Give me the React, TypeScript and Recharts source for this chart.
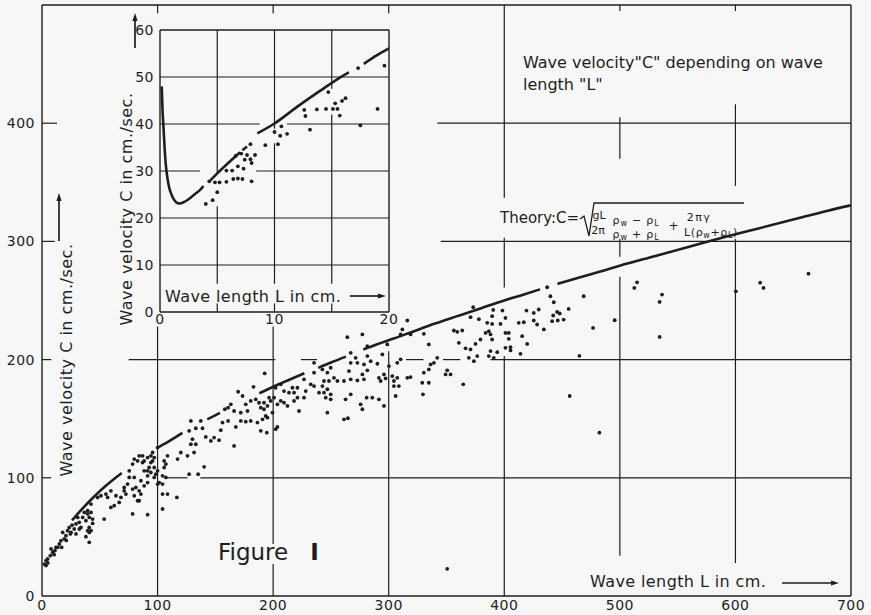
import React from 'react';
import { ComposedChart, Scatter, Line, XAxis, YAxis, ReferenceLine } from 'recharts';

// ---- tick labels ----
const mainXTicks = [0, 100, 200, 300, 400, 500, 600, 700];
const mainYTicks = [0, 100, 200, 300, 400];
const insetXTicks = [0, 10, 20];
const insetYTicks = [0, 10, 20, 30, 40, 50, 60];

// ---- theory curve (null = where the drawn line is broken) ----
const theoryMain: [number, number | null][] = [
  [26, 64], [35, 74], [45, 84], [55, 93], [69, 104], [85, null],
  [101, 126], [110, 131], [121.5, 138], [132, null],
  [143, 149.5], [154, 155], [170, null],
  [188, 171.5], [200, 177], [214, 183], [227, 188.5], [233, null],
  [239, 193], [250, 197.5], [263, 202.5], [270, null],
  [278, 208.5], [290, 213], [305, 218], [319, 223], [340, 230.5], [360, 237], [380, 243.5],
  [400, 250], [415, 254.5], [431, 259.5], [438, null],
  [446, 264], [465, 269.5], [483, 274.5], [500, 279.5], [530, 287.5], [560, 295.5],
  [590, 303.5], [620, 311], [650, 318.5], [680, 326], [700, 330.5],
];

const theoryInset: [number, number | null][] = [
  [0.15, 48], [0.22, 43], [0.3, 39.5], [0.4, 35], [0.5, 31.5], [0.65, 28.5], [0.8, 26.5],
  [1, 25], [1.25, 23.8], [1.5, 23.2], [1.75, 23.1], [2, 23.3], [2.5, 24], [3, 25],
  [3.5, 26], [3.8, 26.8], [4.05, null],
  [4.4, 28], [5, 29.5], [6, 31.8], [7, 34], [7.1, null],
  [7.2, 34.4], [7.6, 35.2], [8, null],
  [8.5, 38], [10, 40.1], [12, 43.7], [14, 47.1], [16, 50.3], [16.5, 51], [17.1, null],
  [17.8, 52.8], [19, 54.7], [20, 56.1],
];

// ---- measured points [L, C] ----
const shortWaves: [number, number][] = [
  [2, 27], [3.5, 25.7], [3.5, 30], [4.9, 31.4], [5, 28], [7.2, 34.2], [7.8, 39.8], [9.2, 37],
  [10.5, 35], [11.2, 38.4], [12.1, 41.2], [13.6, 41.2], [15, 44], [16.4, 46.8], [17, 41.2],
  [17.9, 53.8], [19.3, 48.3], [20.7, 51], [21, 47], [22.2, 55.3], [23.6, 58], [24.5, 52.5],
  [25.1, 53.8], [26, 60], [27.9, 56.7], [29.4, 61], [29.4, 52.5], [30.9, 66.5], [32.2, 62.3],
  [32.3, 56.7], [33.7, 58], [35.2, 66.5], [36.6, 70.7], [38, 63.7], [38, 50.2], [39.5, 72.2],
  [39.5, 69.4], [39.5, 55.3], [40.9, 66.5], [40.9, 58], [40.9, 53.8], [40.9, 45.4], [42.4, 70.7],
  [42.4, 55.3], [42.4, 77.8], [43.8, 61.4], [43.8, 65.1],
];

const mediumWaves: [number, number][] = [
  [48.1, 83.4], [51, 84.8], [53.8, 65.1], [55.3, 86.2], [56.8, 83.4], [59.6, 89], [59.6, 74.9],
  [62.5, 76.4], [64, 84.8], [66.8, 79.2], [68.3, 83.4], [71.1, 89], [71.1, 91.8], [72.6, 86.2],
  [74, 94.7], [75.5, 100.3], [75.5, 105.9], [78.4, 90.5], [78.4, 111.6], [78.4, 69.4], [79.8, 84.8],
  [79.8, 100.3], [79.8, 115.8], [81.2, 91.8], [82.7, 80.6], [82.7, 114.3], [84.1, 89], [84.1, 80.6],
  [84.1, 118.6], [85.6, 97.5], [85.6, 86.2], [87, 118.6], [87, 112.9], [88.4, 114.3], [88.4, 105.9],
  [88.4, 93.2], [91.4, 105.9], [91.4, 96], [91.4, 101.7], [91.4, 117.1], [91.4, 68.8], [92.7, 108.7],
  [94.2, 118.6], [94.2, 112.9], [94.2, 104.5], [95.7, 121.4], [95.7, 114.3], [97.1, 117.1],
  [97.1, 108.7], [97.1, 100.3], [98.5, 103.1], [100, 125.6], [100, 105.9], [100, 94.7], [101.4, 96],
  [104.3, 101.7], [104.3, 94.7], [104.3, 86.2], [104.3, 73.6], [105.7, 108.7], [105.7, 114.3],
  [107.2, 100.3], [107.2, 111.6], [108.6, 118.6], [108.6, 86.2], [116.7, 83.4], [117.3, 115.8],
  [120.1, 121.4], [125.9, 118.6], [127.3, 103.1],
];

const longerWaves: [number, number][] = [
  [131.6, 121.4], [128.8, 128.4], [133.1, 128.4], [130.2, 132.7], [127.3, 139.7], [128.8, 148.1],
  [133.1, 141.9], [137.4, 148.1], [138.9, 141.9], [141.7, 134.6], [146.1, 131.2], [148.9, 134],
  [153.2, 131.8], [154.7, 140.3], [156.2, 146.7], [161, 148.1], [167.7, 143], [172, 148.1],
  [176.3, 147.5], [180.6, 148.1], [186.4, 146.7], [189.3, 139.7], [194.5, 138.2], [202.2, 141.1],
  [203.7, 143], [166.2, 127], [140.3, 109.3], [135.1, 103.1], [158.2, 158], [161, 159.3],
  [163.4, 162.2], [166.2, 156.5], [169.7, 172.8], [173.5, 169.2], [172, 155.1], [176.3, 162.2],
  [177.8, 156.5], [180.6, 165], [183, 177], [185, 166.4], [187.8, 163.5], [189.3, 159.3],
  [192.1, 158], [192.1, 163.5], [192.7, 188.3], [195.1, 160.8], [196.5, 167.8], [197.9, 165],
  [200.8, 167.8], [193.6, 152.3], [190.8, 149.5], [195.1, 150.9], [199.4, 155.1], [203.7, 162.2],
  [206.6, 165], [209.4, 163.5], [212.4, 160.8], [213.7, 172], [206.6, 179.1], [202.2, 176.2],
  [209.4, 173.4],
];

const longWaves: [number, number][] = [
  [264.2, 219], [277.2, 221.3], [316.1, 233.1], [310.3, 221.3], [298.8, 212.8], [281.5, 211.4],
  [235.4, 197.3], [267.1, 205.7], [271.4, 201.5], [267.1, 197.3], [272.9, 197.3], [281.5, 203],
  [284.4, 198.7], [278.6, 195.9], [281.5, 190.9], [277.2, 187.5], [278.6, 183.3], [290.2, 196.5],
  [294.5, 204.4], [307.4, 197.3], [310.3, 200.2], [300.2, 194.5], [295.9, 187.5], [291.5, 184.6],
  [293, 181.9], [297.3, 184.1], [303.1, 186.1], [304.5, 181.9], [307.4, 184.6], [308.8, 177.6],
  [316.1, 184.6], [304.5, 177.6], [306, 169.2], [295.9, 160.8], [249.8, 193.1], [246.9, 188.9],
  [242.6, 191.7], [235.4, 188.9], [252.6, 184.6], [255.6, 181.9], [261.3, 181.9], [267.1, 183.3],
  [272.9, 182.4], [265.6, 190.3], [244, 181.9], [248.3, 181.9], [242.6, 177.6], [235.4, 177.6],
  [246.9, 174.9], [239.7, 172], [244, 172], [249.8, 170.6], [245.5, 167.8], [249.8, 166.4],
  [262.7, 166.4], [267.1, 170.6], [275.7, 162.2], [277.2, 158], [280.9, 167.8], [285.8, 167.8],
  [291.5, 166.4], [246.9, 155.1], [261.3, 149.5], [264.7, 150.4], [232.5, 179.1], [226.7, 183.3],
  [221, 176.2], [216.7, 176.2], [218.1, 172], [218.1, 165], [221, 167.8], [226.7, 167.8],
  [228.2, 173.4], [222.4, 156.5], [311.8, 225.5], [318.9, 221.3], [318.9, 185.2],
];

const longestWaves: [number, number][] = [
  [330.4, 221.8], [334.7, 212.8], [373.1, 244.3], [370.8, 235.9], [378, 234.2], [390.4, 242],
  [398.4, 241.5], [389.5, 236.7], [401, 235.3], [385.2, 231.1], [389.5, 230.2], [396.7, 230.2],
  [356.4, 224.6], [359.3, 223.5], [363.6, 224.6], [360.7, 214.2], [366.5, 209.5], [370.8, 208.6],
  [375.1, 213.3], [379.4, 217], [383.8, 222.6], [386.6, 224], [388.1, 221.3], [389.5, 217],
  [401, 222.6], [403.9, 222.6], [403.9, 217.6], [415.5, 219.8], [419.8, 213.3], [412.5, 231.1],
  [416.9, 231.6], [419.2, 241.5], [425.5, 239.5], [429.8, 242.4], [425.5, 233.1], [428.4, 229.7],
  [401, 210], [405.4, 210.5], [405.4, 207.8], [414, 204.9], [388.1, 207.2], [393.9, 206.3],
  [386.6, 203], [390.9, 201.5], [376.6, 203], [373.7, 198.7], [369.3, 201.5], [342, 201.5],
  [339.1, 197.3], [336.2, 195.9], [334.7, 191.7], [330.4, 188.9], [329, 180.4], [334.7, 180.4],
  [350.6, 190.9], [349.2, 187.5], [353.5, 187.5], [364.5, 179.1], [329.6, 170.6], [350.6, 23],
  [437.1, 261.2], [439.9, 253.6], [442.8, 248.5], [468.7, 253.6], [455.7, 242.9], [442.3, 237.3],
  [445.7, 240.3], [448, 239], [441.4, 232.5], [446.3, 233.1], [451.4, 233.9], [434.2, 225.5],
  [476.8, 226.8], [495.5, 233.3], [465, 203.2], [456.6, 169.2], [482.3, 138.2], [514.9, 265.4],
  [512.5, 260.6], [536.5, 255], [534.4, 248.8], [534.4, 219.2], [600.4, 257.8], [621.4, 265.1],
  [624.3, 260.6], [663.2, 272.7],
];

const insetPoints: [number, number][] = [
  [4, 23], [4.6, 23.8], [5, 25.5], [4.3, 27.8], [4.8, 27.6], [5.2, 27.6], [5.8, 27.7], [6.4, 28.3],
  [6.8, 28.4], [7.2, 28.3], [8, 27.8], [5.8, 30.1], [6.3, 30.1], [6.8, 31], [7.3, 30.5], [6.6, 33.2],
  [7.1, 33.7], [7.6, 33.4], [7.4, 32.4], [7.9, 32.5], [8, 31.7], [8.3, 33.4], [7.9, 35.7],
  [9.2, 35.5], [10, 38.3], [10.6, 39.5], [10.5, 37.5], [10.3, 35.7], [11.1, 37.9], [12.6, 43],
  [12.7, 41.7], [13.1, 38.8], [13.7, 43.1], [14.5, 43.2], [14.7, 46.8], [15.1, 43.2], [15.3, 44.4],
  [15.5, 43.2], [15.7, 41.8], [15.9, 44.9], [16.2, 45.5], [17.3, 51.9], [17.5, 39.7], [19, 43.2],
  [19.6, 52.4],
];

// ---- grid segments as drawn (hand-inked lines broken around labels) ----
const mainHGrid: [number, number, number][] = [
  [100, 0, 8], [100, 108, 126], [100, 137, 700],
  [200, 0, 8], [200, 75, 202], [200, 224, 238], [200, 315, 330], [200, 347, 362], [200, 388, 700],
  [300, 0, 11], [300, 345, 700],
  [400, 0, 13], [400, 342, 700],
];
const mainVGrid: [number, number, number][] = [
  [100, 500, 493], [100, 228, 0],
  [200, 500, 493], [200, 228, 44], [200, 27, 0],
  [300, 500, 493], [300, 207, 0],
  [400, 500, 337], [400, 303, 261], [400, 203, 0],
  [500, 500, 495], [500, 405, 370], [500, 302, 287], [500, 270, 34],
  [600, 500, 495], [600, 416, 347], [600, 302, 28],
];
const insetHGrid: [number, number, number][] = [
  [10, 0, 20], [20, 0, 20], [30, 0, 3.5], [30, 8.4, 20], [40, 0, 8.7], [40, 11.1, 20], [50, 0, 20],
];
const insetVGrid: [number, number, number][] = [
  [5, 60, 29.6], [5, 22.5, 6], [5, 1.8, 0],
  [10, 60, 39], [10, 35.9, 6], [10, 1.8, 0],
  [15, 60, 47.5], [15, 42, 6], [15, 1.8, 0],
];

const INK = '#1e1e1e';
const FONT = '"DejaVu Sans", sans-serif';
const BG = '#f7f7f7';

const toPoints = (pairs: [number, number | null][]) => pairs.map(([L, C]) => ({ L, C }));

const mainPoints = toPoints([...shortWaves, ...mediumWaves, ...longerWaves, ...longWaves, ...longestWaves]);
const insetData = toPoints(insetPoints);
const mainCurve = toPoints(theoryMain);
const insetCurve = toPoints(theoryInset);

const Dot = (props: any) => <circle cx={props.cx} cy={props.cy} r={1.9} fill={INK} />;

const gridH = (segs: [number, number, number][], w: number) =>
  segs.map(([y, a, b], i) => (
    <ReferenceLine key={`h${y}-${i}`} segment={[{ x: a, y }, { x: b, y }]} stroke={INK} strokeWidth={w} />
  ));
const gridV = (segs: [number, number, number][], w: number) =>
  segs.map(([x, a, b], i) => (
    <ReferenceLine key={`v${x}-${i}`} segment={[{ x, y: a }, { x, y: b }]} stroke={INK} strokeWidth={w} />
  ));

const Arrow = ({ x1, y1, x2, y2 }: { x1: number; y1: number; x2: number; y2: number }) => {
  const a = Math.atan2(y2 - y1, x2 - x1);
  const len = 8;
  const w = 2.6;
  const bx = x2 - len * Math.cos(a);
  const by = y2 - len * Math.sin(a);
  const px = -Math.sin(a) * w;
  const py = Math.cos(a) * w;
  return (
    <g>
      <line x1={x1} y1={y1} x2={bx} y2={by} stroke={INK} strokeWidth={1.7} />
      <polygon points={`${x2},${y2} ${bx + px},${by + py} ${bx - px},${by - py}`} fill={INK} />
    </g>
  );
};

// "ρw op ρL" with the w / L dropped as subscripts
const RhoPair = ({ op, pre = '', post = '' }: { op: string; pre?: string; post?: string }) => (
  <>
    <tspan>{pre}ρ</tspan>
    <tspan fontSize={8} dy={2}>w</tspan>
    <tspan dy={-2}>{op}ρ</tspan>
    <tspan fontSize={8} dy={2}>L</tspan>
    <tspan dy={-2}>{post}</tspan>
  </>
);

const axisStyle = { stroke: INK, strokeWidth: 1.4 };
const tickStyle = { fill: INK, fontSize: 14, fontFamily: FONT, letterSpacing: 0.5 };

export default function App() {
  return (
    <div style={{ position: 'absolute', left: 0, top: 0, width: 871, height: 615, background: BG, overflow: 'hidden' }}>
      {/* main chart */}
      <div style={{ position: 'absolute', left: 0, top: 0 }}>
        <ComposedChart width={871} height={615} margin={{ top: 5, right: 20, bottom: 0, left: 0 }}>
          <XAxis
            type="number" dataKey="L" domain={[0, 700]} ticks={mainXTicks} interval={0}
            height={19} tickLine={false} tickSize={2} tickMargin={2}
            axisLine={axisStyle} tick={tickStyle} allowDataOverflow
          />
          <YAxis
            type="number" dataKey="C" domain={[0, 500]} ticks={mainYTicks} interval={0}
            width={42} tickLine={false} tickSize={5} tickMargin={2}
            axisLine={axisStyle} tick={tickStyle} allowDataOverflow
          />
          <ReferenceLine y={500} stroke={INK} strokeWidth={1.4} />
          <ReferenceLine x={700} stroke={INK} strokeWidth={1.4} />
          {gridH(mainHGrid, 1.2)}
          {gridV(mainVGrid, 1.2)}
          <Line
            data={mainCurve} dataKey="C" type="monotone" stroke={INK} strokeWidth={2.6}
            dot={false} activeDot={false} connectNulls={false} isAnimationActive={false}
          />
          <Scatter data={mainPoints} shape={Dot} isAnimationActive={false} />
        </ComposedChart>
      </div>

      {/* inset chart */}
      <div style={{ position: 'absolute', left: 0, top: 0 }}>
        <ComposedChart width={871} height={615} margin={{ top: 30, right: 482, bottom: 290, left: 130 }}>
          <XAxis
            type="number" dataKey="L" domain={[0, 20]} ticks={insetXTicks} interval={0}
            height={13} tickLine={false} tickSize={0} tickMargin={2}
            axisLine={axisStyle} tick={tickStyle} allowDataOverflow
          />
          <YAxis
            type="number" dataKey="C" domain={[0, 60]} ticks={insetYTicks} interval={0}
            width={30} tickLine={false} tickSize={3} tickMargin={3}
            axisLine={axisStyle} tick={tickStyle} allowDataOverflow
          />
          <ReferenceLine y={60} stroke={INK} strokeWidth={1.4} />
          <ReferenceLine x={20} stroke={INK} strokeWidth={1.4} />
          {gridH(insetHGrid, 1.2)}
          {gridV(insetVGrid, 1.2)}
          <Line
            data={insetCurve} dataKey="C" type="monotone" stroke={INK} strokeWidth={2.6}
            dot={false} activeDot={false} connectNulls={false} isAnimationActive={false}
          />
          <Scatter data={insetData} shape={Dot} isAnimationActive={false} />
        </ComposedChart>
      </div>

      {/* annotations */}
      <svg width={871} height={615} style={{ position: 'absolute', left: 0, top: 0, pointerEvents: 'none' }}>
        <g fontFamily={FONT} fill={INK}>
          <text transform="translate(72,360) rotate(-90)" textAnchor="middle" fontSize={16} letterSpacing={0.5}>
            Wave velocity C in cm./sec.
          </text>
          <Arrow x1={59} y1={241} x2={59} y2={193} />

          <text transform="translate(132,209) rotate(-90)" textAnchor="middle" fontSize={16} letterSpacing={0.5}>
            Wave velocity C in cm./sec.
          </text>
          <Arrow x1={135} y1={48} x2={135} y2={13} />

          <text x={165} y={302} fontSize={16} letterSpacing={0.4}>Wave length L in cm.</text>
          <Arrow x1={350} y1={296} x2={386} y2={296} />

          <text x={590} y={587} fontSize={16} letterSpacing={0.4}>Wave length L in cm.</text>
          <Arrow x1={782} y1={583} x2={839} y2={583} />

          <text x={523} y={68} fontSize={16}>Wave velocity"C" depending on wave</text>
          <text x={523} y={90} fontSize={16}>length "L"</text>

          <text x={218} y={560} fontSize={23}>Figure</text>
          <text x={314.5} y={560} fontSize={23} textAnchor="middle" fontWeight="bold">I</text>

          {/* formula */}
          <text x={500} y={223} fontSize={15}>Theory:C=</text>
          <path d="M580,219 L584,216 L589,236 L594,203 L744,203" fill="none" stroke={INK} strokeWidth={1.3} />
          <text x={599} y={219} fontSize={11} textAnchor="middle">gL</text>
          <text x={598} y={234} fontSize={11} textAnchor="middle">2π</text>
          <text x={636} y={224} fontSize={11} textAnchor="middle" letterSpacing={0.8}>
            <RhoPair op=" − " />
          </text>
          <text x={636} y={238} fontSize={11} textAnchor="middle" letterSpacing={0.8}>
            <RhoPair op=" + " />
          </text>
          <text x={673.5} y={230} fontSize={12} textAnchor="middle">+</text>
          <text x={699} y={221} fontSize={11} textAnchor="middle" letterSpacing={1.5}>2πγ</text>
          <text x={711} y={236} fontSize={11} textAnchor="middle" letterSpacing={0.6}>
            <RhoPair op="+" pre="L(" post=")" />
          </text>
        </g>
      </svg>
    </div>
  );
}
